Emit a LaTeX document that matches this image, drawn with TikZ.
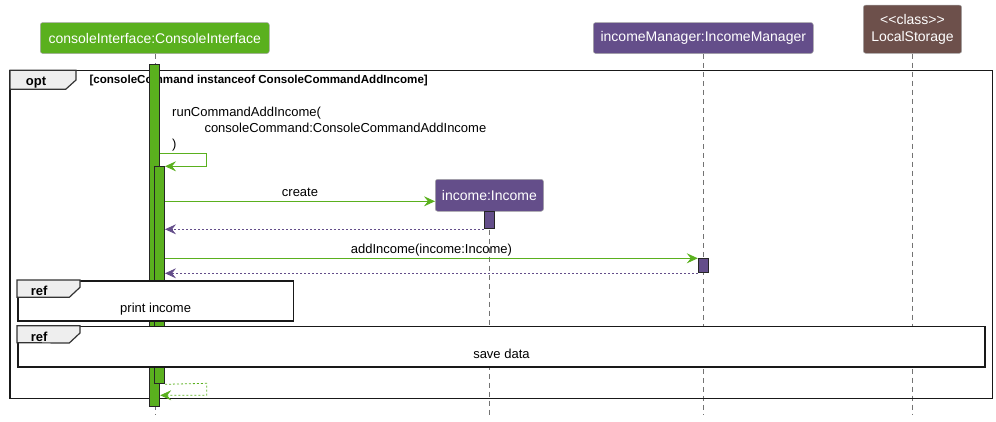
\documentclass[tikz,border=0pt]{standalone}
\usepackage{fontspec}
\setmainfont{Liberation Sans}
\usepackage{tikz}
\usetikzlibrary{arrows.meta}
\definecolor{ciGreen}{RGB}{90,176,30}
\definecolor{mgrPurple}{RGB}{100,78,138}
\definecolor{lsBrown}{RGB}{109,80,75}
\definecolor{tabGray}{RGB}{238,238,238}

\begin{document}
\begin{tikzpicture}[x=1pt,y=-1pt,
  participant/.style={draw=black!35, line width=0.5pt, rounded corners=2.5pt,
    text=white, inner sep=0pt, align=center, font=\fontsize{14}{17.5}\selectfont},
  lifeline/.style={draw=black!55, line width=0.6pt, dash pattern=on 5pt off 4pt},
  bar/.style={draw=black!85, line width=1pt, minimum width=10.4pt, inner sep=0pt, anchor=north},
  msg/.style={draw=ciGreen, line width=1pt, -{Stealth[length=11pt,width=10pt,inset=4pt]}},
  ret/.style={line width=0.8pt, dash pattern=on 2pt off 2pt, -{Stealth[length=11pt,width=10pt,inset=4pt]}},
  msgtext/.style={font=\fontsize{13}{16}\selectfont, inner sep=0pt, anchor=base},
  frame/.style={draw=black!90, line width=1.6pt},
  refbox/.style={frame, fill=white, inner sep=0pt, anchor=north west},
  tab/.style={draw=black!80, fill=tabGray, line width=1.2pt},
  tabtext/.style={font=\fontsize{13}{16}\selectfont\bfseries, inner sep=0pt, anchor=base west}]
  \useasboundingbox (0,0) rectangle (996,421);

  % participants
  \node[participant, fill=ciGreen, minimum width=229pt, minimum height=31pt] (ci) at (154.8,38) {consoleInterface:ConsoleInterface};
  \node[participant, fill=mgrPurple, minimum width=220pt, minimum height=31pt] (im) at (703.3,38) {incomeManager:IncomeManager};
  \node[participant, fill=lsBrown, minimum width=98.4pt, minimum height=48.3pt] (ls) at (912.5,29.2) {<{}<class>{}>\\LocalStorage};
  \node[participant, fill=mgrPurple, minimum width=108.3pt, minimum height=32pt] (inc) at (489.4,195.3) {income:Income};

  % lifelines
  \foreach \p in {ci,im,ls,inc}
    \draw[lifeline] (\p.south) -- (\p.south |- 0,415);

  % opt frame
  \draw[frame] (10,70.3) rectangle (992.3,398.3);
  \draw[tab] (10,70.3) -- (76,70.3) -- (76,80) -- (65.7,89.3) -- (10,89.3) -- cycle;
  \node[tabtext] (optLbl) at (25.7,85) {opt};
  \node[tabtext, font=\fontsize{11.6}{13}\selectfont\bfseries] (guard) at (89.3,83.3) {[consoleCommand instanceof ConsoleCommandAddIncome]};

  % activations
  \node[bar, fill=ciGreen, minimum height=341.7pt] (ciBar) at (154.5,64) {};
  \node[bar, fill=ciGreen, minimum height=217pt] (ciBar2) at (159.3,166.3) {};
  \node[bar, fill=mgrPurple, minimum height=17pt] (incBar) at (489.5,211.3) {};
  \node[bar, fill=mgrPurple, minimum height=14pt] (imBar) at (703.5,258.3) {};

  % self call
  \node[msgtext, anchor=base west] (runLbl) at (172,116.7) {runCommandAddIncome(};
  \node[msgtext, anchor=base west] (runArg) at (204.3,132.7) {consoleCommand:ConsoleCommandAddIncome};
  \node[msgtext, anchor=base west] (runEnd) at (172,148.5) {)};
  \draw[msg] (ciBar.east |- 0,153.7) -- (206.7,153.7) -- (206.7,166.3) -- (ciBar2.north east);

  % create income
  \draw[msg] (ciBar2.east |- 0,201.3) -- node[msgtext, yshift=5pt] (createLbl) {create} (inc.west |- 0,201.3);
  \draw[ret, draw=mgrPurple] (incBar.south west) -- (ciBar2.east |- incBar.south);

  % add income
  \draw[msg] (ciBar2.east |- imBar.north) -- node[msgtext, yshift=5pt] (addLbl) {addIncome(income:Income)} (imBar.north west);
  \draw[ret, draw=mgrPurple] (imBar.south west) -- (ciBar2.east |- imBar.south);

  % refs
  \node[refbox, minimum width=275.7pt, minimum height=40.3pt] (printRef) at (17,280) {};
  \draw[tab] (printRef.north west) -- ++(63,0) -- ++(0,7.3) -- ++(-10.7,10) -- (printRef.west |- 0,297.3) -- cycle;
  \node[tabtext] (printTab) at (30.7,295) {ref};
  \node[msgtext] (printLbl) at (printRef.center |- 0,312.7) {print income};

  \node[refbox, minimum width=967.3pt, minimum height=40.3pt] (saveRef) at (17,325.7) {};
  \draw[tab] (saveRef.north west) -- ++(63,0) -- ++(0,7.3) -- ++(-10.7,10) -- (saveRef.west |- 0,342.7) -- cycle;
  \node[tabtext] (saveTab) at (30.7,341) {ref};
  \node[msgtext] (saveLbl) at (saveRef.center |- 0,358) {save data};

  % return from self call
  \draw[ret, draw=ciGreen] (ciBar2.south east) -- (206.7,383.3) -- (206.7,395.3) -- (ciBar.east |- 0,395.3);
\end{tikzpicture}
\end{document}
